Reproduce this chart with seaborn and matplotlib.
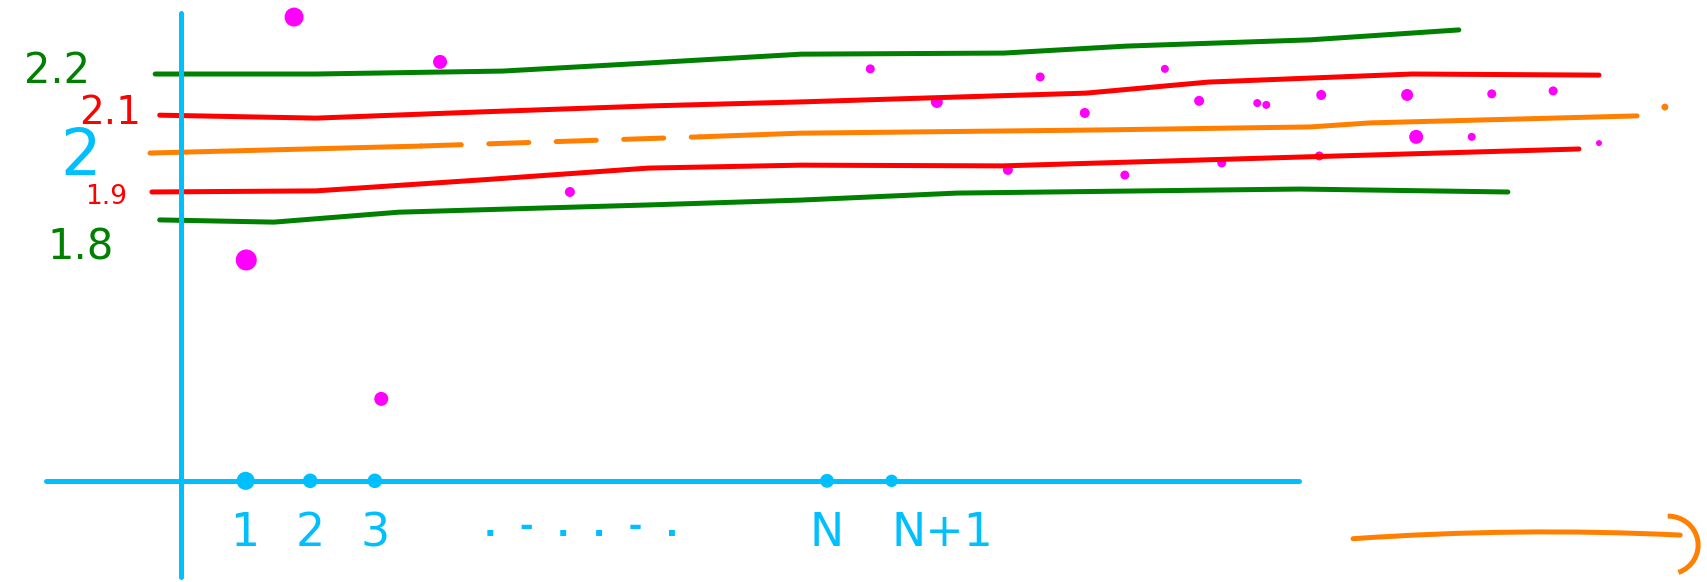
import numpy as np
import pandas as pd
import seaborn as sns
import matplotlib.pyplot as plt
from matplotlib.patches import Arc

# Reference lines (x in index units, y in value units)
green_top_x = [-0.40, 2.09, 4.98, 7.23, 9.60, 12.74, 14.64, 17.48, 19.78]
green_top_y = [2.200, 2.200, 2.208, 2.230, 2.254, 2.257, 2.276, 2.293, 2.320]

red_top_x = [-0.33, 2.09, 4.66, 7.23, 9.58, 11.95, 14.01, 15.90, 19.06, 21.95]
red_top_y = [2.088, 2.080, 2.097, 2.113, 2.124, 2.137, 2.148, 2.178, 2.200, 2.197]

orange_a_x = [-0.48, 3.72]
orange_a_y = [1.985, 2.004]
orange_dash_x = [3.72, 8.03]
orange_dash_y = [2.004, 2.029]
orange_b_x = [8.03, 9.58, 14.32, 17.48, 18.41, 22.54]
orange_b_y = [2.029, 2.039, 2.048, 2.056, 2.067, 2.086]

red_bot_x = [-0.45, 2.09, 4.66, 7.23, 9.60, 12.71, 17.32, 21.64]
red_bot_y = [1.879, 1.882, 1.912, 1.944, 1.952, 1.950, 1.974, 1.996]

green_bot_x = [-0.33, 1.44, 3.37, 7.29, 9.60, 12.01, 17.32, 20.54]
green_bot_y = [1.803, 1.797, 1.824, 1.844, 1.857, 1.876, 1.887, 1.879]

# Scattered samples
pts_x = [1.75, 4.01, 10.67, 13.30, 15.23, 11.70, 13.99, 15.76, 16.66, 16.80,
         17.65, 18.98, 20.29, 21.24, 19.12, 19.98, 21.95, 12.80, 14.61, 16.11,
         17.62, 6.02, 1.01, 3.10]
pts_y = [2.355, 2.233, 2.214, 2.192, 2.214, 2.124, 2.094, 2.127, 2.121, 2.116,
         2.143, 2.143, 2.146, 2.154, 2.029, 2.029, 2.012, 1.939, 1.925, 1.958,
         1.977, 1.879, 1.694, 1.316]

# x axis positions (N drawn at 10)
x_positions = [1, 2, 3, 10, 11]
x_labels = ['1', '2', '3', 'N', 'N+1']
axis_y = 1.093

# y labels
y_labels = ['2.2', '2.1', '2', '1.9', '1.8']

orange_dot = (22.97, 2.110)

GREEN = '#008000'
RED = '#ff0000'
ORANGE = '#ff8000'
CYAN = '#00bfff'
MAGENTA = '#ff00ff'
LW = 3.6

sns.set_theme(style='white')
plt.rcParams['font.family'] = ['DejaVu Sans']

fig = plt.figure(figsize=(17.07, 5.82), dpi=100)
ax = fig.add_axes([0, 0, 1, 1])
ax.set_xlim(-2.802, 23.622)
ax.set_ylim(0.8177, 2.4014)

segments = [
    (green_top_x, green_top_y, GREEN, '-'),
    (red_top_x, red_top_y, RED, '-'),
    (orange_a_x, orange_a_y, ORANGE, '-'),
    (orange_dash_x, orange_dash_y, ORANGE, (0, (8, 5.5))),
    (orange_b_x, orange_b_y, ORANGE, '-'),
    (red_bot_x, red_bot_y, RED, '-'),
    (green_bot_x, green_bot_y, GREEN, '-'),
]
for xs, ys, col, ls in segments:
    sns.lineplot(x=xs, y=ys, color=col, lw=LW, linestyle=ls, sort=False,
                 estimator=None, ax=ax, solid_capstyle='round',
                 dash_capstyle='round')

# magenta samples
dot_px = [19, 14, 9, 9, 8, 12, 10, 10, 8, 8, 10, 12, 9, 9, 14, 8, 6, 10, 9, 9, 9, 10, 21, 14]
sizes = [(d * 0.72) ** 2 for d in dot_px]
sns.scatterplot(x=pts_x, y=pts_y, s=sizes, color=MAGENTA, edgecolor='none',
                ax=ax, legend=False)
ax.scatter(*orange_dot, s=25, color=ORANGE, edgecolor='none')

# points on the x axis
ax.scatter(x_positions, [axis_y] * len(x_positions),
           s=[170, 110, 110, 100, 80], color=CYAN, edgecolor='none', zorder=5,
           clip_on=False)

# axes in the sketch style
for side in ['top', 'right']:
    ax.spines[side].set_visible(False)
ax.spines['left'].set_position(('data', 0))
ax.spines['left'].set_bounds(0.831, 2.366)
ax.spines['bottom'].set_position(('data', axis_y))
ax.spines['bottom'].set_bounds(-2.09, 17.31)
for side in ['left', 'bottom']:
    ax.spines[side].set_color(CYAN)
    ax.spines[side].set_linewidth(LW)
    ax.spines[side].set_capstyle('round')

ax.set_yticks([])
ax.set_xticks(x_positions, labels=x_labels)
ax.tick_params(axis='x', length=0, pad=22, labelsize=33, labelcolor=CYAN)
ax.get_xticklabels()[-1].set_horizontalalignment('left')
ax.text(6.19, 0.97, '.  -  .  .  -  .', color=CYAN, fontsize=24,
        ha='center', va='center', fontweight='bold')

# y labels
ax.text(-1.92, 2.208, y_labels[0], color=GREEN, fontsize=30, ha='center', va='center')
ax.text(-1.10, 2.094, y_labels[1], color=RED, fontsize=28, ha='center', va='center')
ax.text(-1.55, 1.975, y_labels[2], color=CYAN, fontsize=46, ha='center', va='center')
ax.text(-1.16, 1.865, y_labels[3], color=RED, fontsize=19, ha='center', va='center')
ax.text(-1.56, 1.729, y_labels[4], color=GREEN, fontsize=30, ha='center', va='center')

# orange arrow at the lower right
ax.annotate('', xy=(23.25, 0.945), xytext=(18.10, 0.935),
            arrowprops=dict(arrowstyle='-', color=ORANGE, lw=LW,
                            connectionstyle='arc3,rad=-0.03'),
            annotation_clip=False)
ax.add_patch(Arc((23.02, 0.918), 0.93, 0.158, theta1=-25, theta2=95,
                 color=ORANGE, lw=LW, clip_on=False))

ax.set_xlabel('')
ax.set_ylabel('')
plt.savefig('out.png', dpi=100)
